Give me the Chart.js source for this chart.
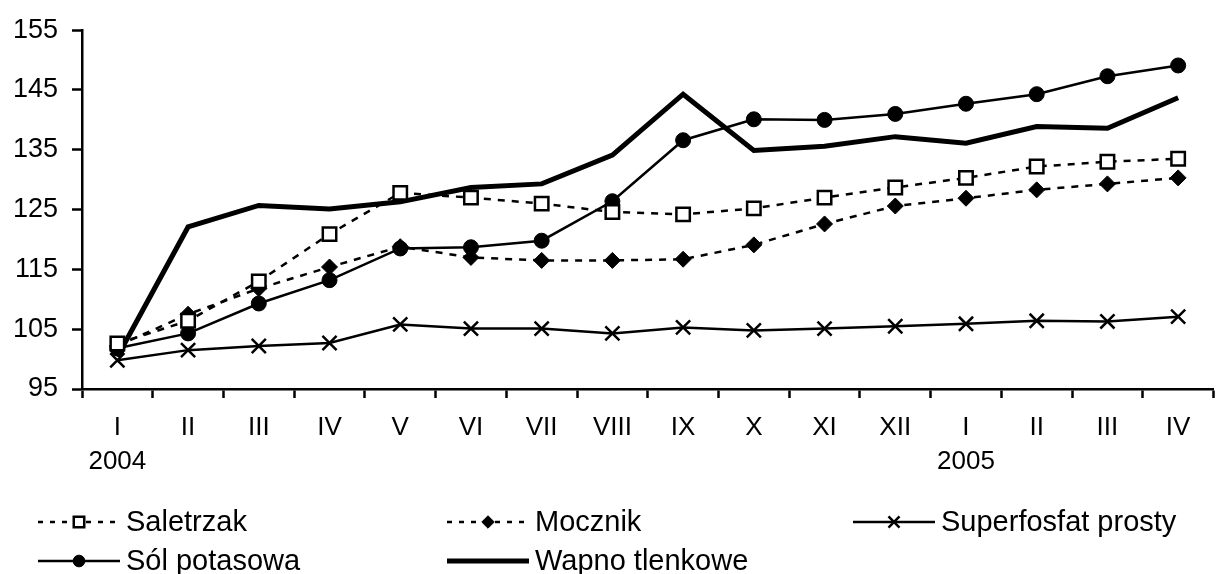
<!DOCTYPE html>
<html>
<head>
<meta charset="utf-8">
<script src="https://cdn.jsdelivr.net/npm/chart.js@4/dist/chart.umd.min.js"></script>
<style>
html, body { margin: 0; padding: 0; background: #fff; overflow: hidden; }
#wrap { width: 1226px; height: 574px; }
</style>
</head>
<body>
<div id="wrap"><canvas id="c" width="1226" height="574"></canvas></div>
<script>
const months = ['I', 'II', 'III', 'IV', 'V', 'VI', 'VII', 'VIII', 'IX', 'X', 'XI', 'XII', 'I', 'II', 'III', 'IV'];
const years = ['2004', '', '', '', '', '', '', '', '', '', '', '', '2005', '', '', ''];
const yTicks = [95, 105, 115, 125, 135, 145, 155];

const saletrzak = [102.6, 106.4, 113.0, 120.9, 127.8, 127.0, 126.0, 124.6, 124.2, 125.2, 127.0, 128.7, 130.3, 132.2, 133.0, 133.5];
const mocznik = [102.2, 107.5, 111.8, 115.4, 118.8, 117.0, 116.5, 116.5, 116.7, 119.1, 122.6, 125.6, 126.9, 128.3, 129.3, 130.3];
const superfosfat = [99.8, 101.5, 102.2, 102.7, 105.8, 105.1, 105.1, 104.3, 105.3, 104.8, 105.1, 105.5, 105.9, 106.4, 106.3, 107.1];
const solPotasowa = [101.8, 104.3, 109.3, 113.2, 118.5, 118.7, 119.8, 126.4, 136.6, 140.1, 140.0, 141.0, 142.7, 144.3, 147.3, 149.1];
const wapno = [100.4, 122.1, 125.7, 125.1, 126.3, 128.7, 129.3, 134.1, 144.3, 134.9, 135.6, 137.2, 136.1, 138.9, 138.6, 143.7];

const labels = months.map((m, i) => years[i] ? [m, years[i]] : m);
const FONT = 'Liberation Sans, Arial, sans-serif';

// legend drawn in 3 columns like the original
const gridLegend = {
    id: 'gridLegend',
    afterDraw(chart) {
        const ctx = chart.ctx;
        const cols = [38, 447, 853];
        const rows = [522, 561];
        chart.data.datasets.forEach((ds, i) => {
            const x = cols[i % 3];
            const y = rows[Math.floor(i / 3)];
            ctx.save();
            ctx.strokeStyle = '#000';
            ctx.lineWidth = ds.borderWidth;
            ctx.setLineDash(ds.borderDash ? [5, 7] : []);
            ctx.beginPath();
            ctx.moveTo(x, y);
            ctx.lineTo(x + 82, y);
            ctx.stroke();
            ctx.setLineDash([]);
            if (ds.pointRadius > 0) {
                ctx.fillStyle = ds.pointBackgroundColor;
                ctx.lineWidth = ds.pointBorderWidth;
                Chart.helpers.drawPoint(ctx, {
                    pointStyle: ds.pointStyle,
                    radius: ds.pointRadius * 0.78,
                    borderWidth: ds.pointBorderWidth
                }, x + 41, y);
            }
            ctx.fillStyle = '#000';
            ctx.font = '29px ' + FONT;
            ctx.textBaseline = 'middle';
            ctx.fillText(ds.label, x + 88, y + 1);
            ctx.restore();
        });
    }
};

new Chart(document.getElementById('c'), {
    type: 'line',
    data: {
        labels: labels,
        datasets: [
            {
                label: 'Saletrzak',
                data: saletrzak,
                borderColor: '#000',
                borderWidth: 2.5,
                borderDash: [7, 7],
                pointStyle: 'rect',
                pointRadius: 9.5,
                pointBorderWidth: 2.5,
                pointBorderColor: '#000',
                pointBackgroundColor: '#fff'
            },
            {
                label: 'Mocznik',
                data: mocznik,
                borderColor: '#000',
                borderWidth: 2.5,
                borderDash: [7, 7],
                pointStyle: 'rectRot',
                pointRadius: 8,
                pointBorderWidth: 1,
                pointBorderColor: '#000',
                pointBackgroundColor: '#000'
            },
            {
                label: 'Superfosfat prosty',
                data: superfosfat,
                borderColor: '#000',
                borderWidth: 2.5,
                pointStyle: 'crossRot',
                pointRadius: 10,
                pointBorderWidth: 2.5,
                pointBorderColor: '#000',
                pointBackgroundColor: '#000'
            },
            {
                label: 'Sól potasowa',
                data: solPotasowa,
                borderColor: '#000',
                borderWidth: 2.5,
                pointStyle: 'circle',
                pointRadius: 7.5,
                pointBorderWidth: 1,
                pointBorderColor: '#000',
                pointBackgroundColor: '#000'
            },
            {
                label: 'Wapno tlenkowe',
                data: wapno,
                borderColor: '#000',
                borderWidth: 5,
                pointRadius: 0,
                pointBackgroundColor: '#000'
            }
        ]
    },
    options: {
        responsive: false,
        animation: false,
        devicePixelRatio: 1,
        layout: { padding: { top: 26, right: 0, bottom: 85, left: 0 } },
        plugins: {
            legend: { display: false },
            tooltip: { enabled: false }
        },
        elements: { line: { tension: 0 } },
        scales: {
            x: {
                offset: true,
                grid: { offset: true, drawOnChartArea: false, tickLength: 9, tickWidth: 2.5, tickColor: '#000' },
                border: { color: '#000', width: 2.5 },
                ticks: {
                    color: '#000',
                    font: { family: FONT, size: 26, lineHeight: 1.3 },
                    padding: 13,
                    maxRotation: 0,
                    autoSkip: false
                },
                afterFit: s => { s.height = 100; }
            },
            y: {
                min: 95,
                max: 155,
                afterBuildTicks: s => { s.ticks = yTicks.map(v => ({ value: v })); },
                grid: { drawOnChartArea: false, tickLength: 10, tickWidth: 2.5, tickColor: '#000' },
                border: { color: '#000', width: 2.5 },
                ticks: {
                    color: '#000',
                    font: { family: FONT, size: 27 },
                    padding: 14
                },
                afterFit: s => { s.width = 82; }
            }
        }
    },
    plugins: [gridLegend]
});
</script>
</body>
</html>
